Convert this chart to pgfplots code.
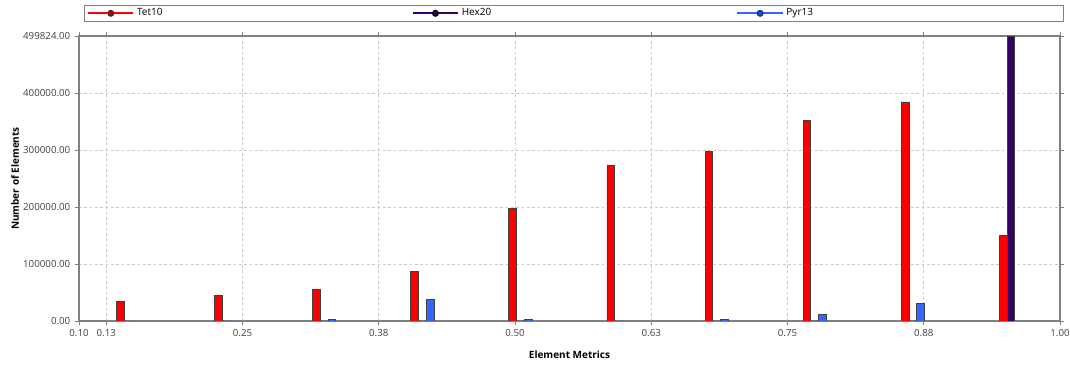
\documentclass[border=0pt]{standalone}
\usepackage{pgfplots}
\pgfplotsset{compat=1.18}
\usepackage{fontspec}
\setmainfont{Open Sans}
\definecolor{tetred}{RGB}{255,0,0}
\definecolor{tetmark}{RGB}{170,0,0}
\definecolor{hexpur}{RGB}{51,0,102}
\definecolor{pyrblue}{RGB}{51,102,255}
\definecolor{pyrmark}{RGB}{30,70,200}
\definecolor{axgray}{RGB}{128,128,128}
\definecolor{gridgray}{RGB}{200,200,200}
\definecolor{ticktext}{RGB}{64,64,64}
\begin{document}
\begin{tikzpicture}
\useasboundingbox (-59.25pt,-34.5pt) rectangle (743.25pt,240.75pt);
\begin{axis}[
  at={(0pt,0pt)}, anchor=south west,
  scale only axis,
  width=735.75pt, height=213.75pt,
  xmin=0.1, xmax=1.0,
  ymin=0, ymax=499824,
  ybar=0pt, bar width=5.8pt,
  xtick={0.1,0.125,0.25,0.375,0.5,0.625,0.75,0.875,1.0},
  xticklabels={0.10,0.13,0.25,0.38,0.50,0.63,0.75,0.88,1.00},
  ytick={0,100000,200000,300000,400000,499824},
  yticklabels={0.00,100000.00,200000.00,300000.00,400000.00,499824.00},
  scaled y ticks=false,
  tick align=outside,
  major tick length=3pt,
  tick style={axgray, line width=0.6pt},
  axis line style={axgray, line width=0.9pt},
  grid=major,
  major grid style={gridgray, dash pattern=on 2pt off 2pt, line width=0.6pt},
  tick label style={font=\fontsize{7.3}{8.5}\selectfont, text=ticktext},
  xlabel={Element Metrics},
  ylabel={Number of Elements},
  label style={font=\fontsize{7.5}{9}\selectfont\bfseries},
  xlabel style={at={(axis description cs:0.5,-0.119)}, anchor=center},
  ylabel style={at={(axis description cs:-0.0652,0.5)}, anchor=center},
  legend columns=3,
  legend cell align=left,
  legend style={
    at={(axis description cs:0.0051,1.0491)}, anchor=south west,
    draw=axgray, line width=0.7pt,
    inner xsep=2pt, inner ysep=1.2pt,
    font=\fontsize{7.5}{9}\selectfont,
    nodes={text width=204pt, inner ysep=1.5pt},
    /tikz/every odd column/.style={column sep=0pt},
    /tikz/every even column/.style={column sep=0pt},
  },
  legend image code/.code={\draw[#1, sharp plot, mark repeat=2, mark phase=2] plot coordinates {(0pt,0pt) (17pt,0pt) (34pt,0pt)};},
]
\addlegendimage{tetred, line width=1.5pt, mark=*, mark size=2.3pt, mark options={solid, line width=0.6pt, draw=black!80, fill=tetmark}}
\addlegendentry{Tet10}
\addlegendimage{hexpur, line width=1.5pt, mark=*, mark size=2.3pt, mark options={solid, line width=0.6pt, draw=black, fill=hexpur!70!black}}
\addlegendentry{Hex20}
\addlegendimage{pyrblue, line width=1.5pt, mark=*, mark size=2.3pt, mark options={solid, line width=0.6pt, draw=pyrmark!60!black, fill=pyrmark}}
\addlegendentry{Pyr13}

% Tet10
\addplot[forget plot, bar shift=-5.8pt, fill=tetred, draw=black!75, line width=0.6pt] coordinates {
(0.145,35000) (0.235,44600) (0.325,55900) (0.415,86200) (0.505,197000)
(0.595,272400) (0.685,297000) (0.775,352500) (0.865,384200) (0.955,150000)};
% Hex20
\addplot[forget plot, bar shift=0pt, fill=hexpur, draw=black!75, line width=0.6pt] coordinates {
(0.145,0) (0.235,0) (0.325,0) (0.415,0) (0.505,0)
(0.595,0) (0.685,0) (0.775,0) (0.865,0) (0.955,499824)};
% Pyr13
\addplot[forget plot, bar shift=5.8pt, fill=pyrblue, draw=black!75, line width=0.6pt] coordinates {
(0.145,0) (0.235,0) (0.325,2000) (0.415,38000) (0.505,2000)
(0.595,0) (0.685,2000) (0.775,12200) (0.865,30400) (0.955,0)};
\end{axis}
\end{tikzpicture}
\end{document}
